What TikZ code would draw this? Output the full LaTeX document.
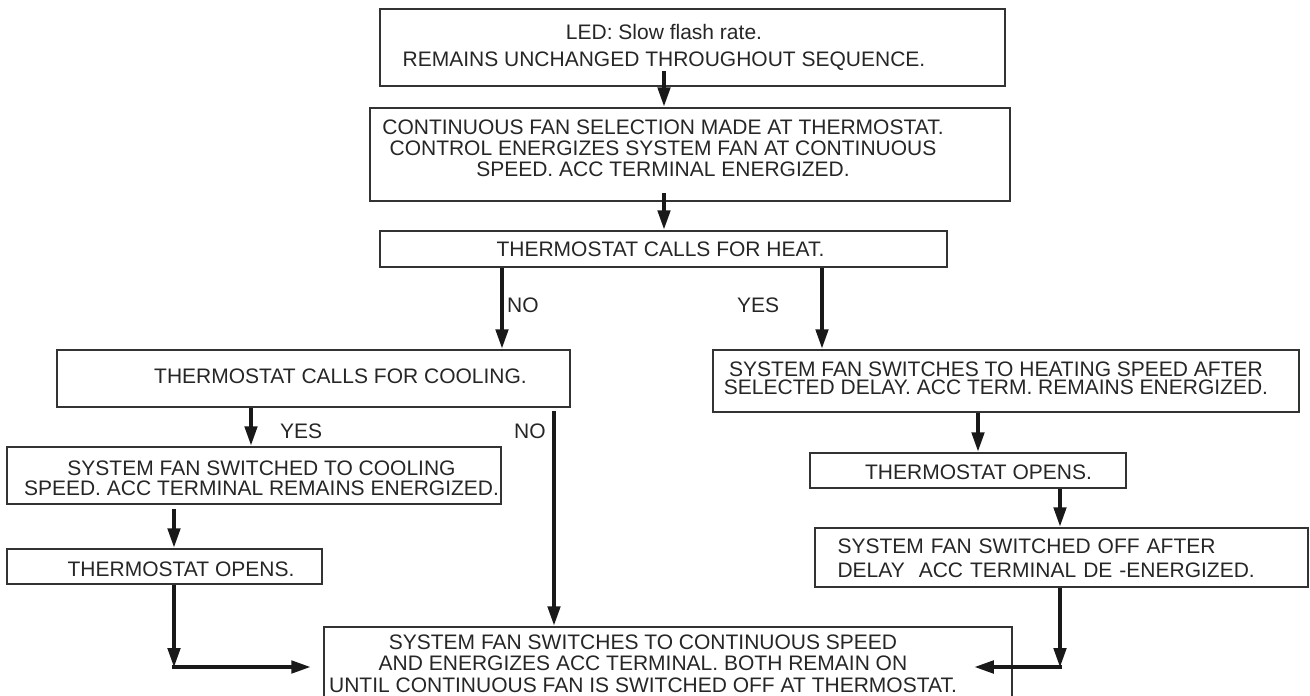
\documentclass[tikz,border=0pt]{standalone}
\usepackage{fontspec}
\setmainfont{Liberation Sans}
\usetikzlibrary{arrows.meta}

\tikzset{
  box/.style={draw=black!80, line width=1.5pt, inner sep=0pt},
  txt/.style={font=\fontsize{21}{21}\selectfont, text=black!85, align=center, inner sep=0pt},
  flow/.style={-{Triangle[width=12pt,length=20pt]}, line width=4.5pt, draw=black!90},
  lbl/.style={font=\fontsize{21}{21}\selectfont, text=black!85, inner sep=0pt}
}

\begin{document}
\begin{tikzpicture}[x=1pt, y=-1pt]
  \useasboundingbox (0,0) rectangle (1310,696);
  % boxes of the sequence
  \node[box, minimum width=625pt, minimum height=77pt,
    label={[txt, xshift=-28.5pt]center:LED: Slow flash rate.\\[6pt]REMAINS UNCHANGED THROUGHOUT SEQUENCE.}] (led) at (692.5,47.5) {};
  \node[box, minimum width=640pt, minimum height=93pt,
    label={[txt, xshift=-27pt, yshift=6pt]center:CONTINUOUS FAN SELECTION MADE AT THERMOSTAT.\\CONTROL ENERGIZES SYSTEM FAN AT CONTINUOUS\\SPEED. ACC TERMINAL ENERGIZED.}] (contfan) at (690,154.5) {};
  \node[box, minimum width=567pt, minimum height=36pt,
    label={[txt, xshift=-3pt]center:THERMOSTAT CALLS FOR HEAT.}] (heat) at (663.5,249) {};
  % cooling branch
  \node[box, minimum width=513pt, minimum height=57pt,
    label={[txt, xshift=27pt, yshift=2pt]center:THERMOSTAT CALLS FOR COOLING.}] (cool) at (313.5,378.5) {};
  \node[box, minimum width=494pt, minimum height=57pt,
    label={[txt, xshift=7.5pt, yshift=-3pt, font=\fontsize{21}{20}\selectfont]center:SYSTEM FAN SWITCHED TO COOLING\\SPEED. ACC TERMINAL REMAINS ENERGIZED.}] (coolspd) at (254,475.5) {};
  \node[box, minimum width=315pt, minimum height=35pt,
    label={[txt, xshift=16.5pt, yshift=-3pt]center:THERMOSTAT OPENS.}] (opensL) at (164.5,566.5) {};
  % heating branch
  \node[box, minimum width=586pt, minimum height=62pt,
    label={[txt, xshift=-10pt, yshift=2.5pt, font=\fontsize{21}{18.5}\selectfont]center:SYSTEM FAN SWITCHES TO HEATING SPEED AFTER\\SELECTED DELAY. ACC TERM. REMAINS ENERGIZED.}] (heatspd) at (1006,381) {};
  \node[box, minimum width=316pt, minimum height=35pt,
    label={[txt, xshift=10.5pt, yshift=-1.5pt]center:THERMOSTAT OPENS.}] (opensR) at (968,470.5) {};
  \node[box, minimum width=493pt, minimum height=59pt,
    label={[txt, align=left, text width=470pt, xshift=11pt, yshift=-1pt, font=\fontsize{21}{23.5}\selectfont]center:SYSTEM FAN SWITCHED OFF AFTER\\DELAY\ \ ACC TERMINAL DE -ENERGIZED.}] (off) at (1061.5,557.5) {};
  % end of sequence
  \node[box, minimum width=688pt, minimum height=73pt,
    label={[txt, xshift=-25pt, yshift=0pt, font=\fontsize{21}{21.5}\selectfont]center:SYSTEM FAN SWITCHES TO CONTINUOUS SPEED\\AND ENERGIZES ACC TERMINAL. BOTH REMAIN ON\\UNTIL CONTINUOUS FAN IS SWITCHED OFF AT THERMOSTAT.}] (cont) at (668,663.5) {};

  % yes / no labels
  \node[lbl, anchor=west] (no1) at (507,305) {NO};
  \node[lbl, anchor=west] (yes1) at (737,305) {YES};
  \node[lbl, anchor=west] (yes2) at (280,431) {YES};
  \node[lbl, anchor=west] (no2) at (514,431) {NO};

  \coordinate (cornerL) at (174,667);
  \coordinate (cornerR) at (1060,667);

  % connectors
  \draw[flow] ([xshift=-28.5pt, yshift=16pt]led.south) -- ([xshift=-26pt]contfan.north);
  \draw[flow] ([xshift=-26pt, yshift=9pt]contfan.south) -- ([xshift=0.5pt]heat.north);
  \draw[flow] ([xshift=-161.5pt]heat.south) -- ([xshift=188.5pt]cool.north);
  \draw[flow] ([xshift=158.5pt]heat.south) -- ([xshift=-184pt]heatspd.north);
  \draw[flow] ([xshift=-62.5pt]cool.south) -- ([xshift=-3pt]coolspd.north);
  \draw[flow] ([xshift=240.5pt, yshift=-3pt]cool.south) -- ([xshift=-114pt]cont.north);
  \draw[flow] ([xshift=-80pt, yshift=-4pt]coolspd.south) -- ([xshift=9.5pt]opensL.north);
  \draw[flow] ([xshift=9.5pt]opensL.south) -- ([yshift=-1pt]cornerL);
  \draw[flow] ([xshift=-2.25pt]cornerL) -- ([xshift=-12pt, yshift=-3.5pt]cont.west);
  \draw[flow] ([xshift=-28pt]heatspd.south) -- ([xshift=10pt]opensR.north);
  \draw[flow] ([xshift=92pt]opensR.south) -- ([xshift=-1.5pt]off.north);
  \draw[flow] ([xshift=-1.5pt]off.south) -- ([yshift=-1pt]cornerR);
  \draw[flow] ([xshift=2.25pt]cornerR) -- ([xshift=-39pt, yshift=-3.5pt]cont.east);
\end{tikzpicture}
\end{document}
